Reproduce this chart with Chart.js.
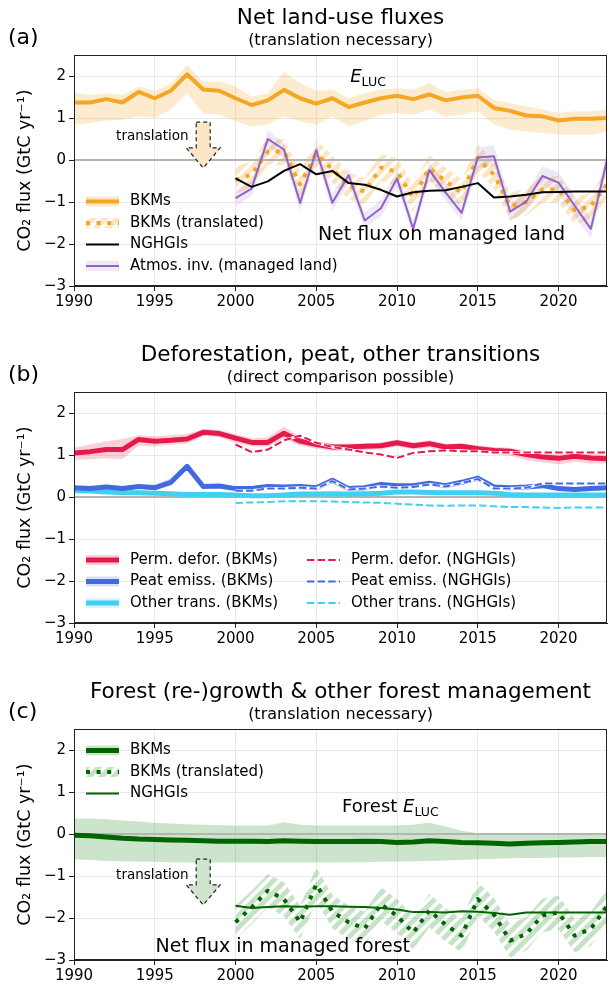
<!DOCTYPE html>
<html>
<head>
<meta charset="utf-8">
<script src="https://cdn.jsdelivr.net/npm/chart.js@4.4.1/dist/chart.umd.min.js"></script>
<style>
  html, body { margin: 0; padding: 0; background: #fff; overflow: hidden; }
  .panel { position: absolute; left: 0; width: 609px; }
</style>
</head>
<body>
<div class="panel" style="top:0"><canvas id="panelA" width="609" height="337"></canvas></div>
<div class="panel" style="top:337px"><canvas id="panelB" width="609" height="337"></canvas></div>
<div class="panel" style="top:674px"><canvas id="panelC" width="609" height="311"></canvas></div>
<script>
// años
const anios = [1990, 1991, 1992, 1993, 1994, 1995, 1996, 1997, 1998, 1999, 2000, 2001, 2002, 2003, 2004, 2005, 2006,
  2007, 2008, 2009, 2010, 2011, 2012, 2013, 2014, 2015, 2016, 2017, 2018, 2019, 2020, 2021, 2022, 2023];
const aniosGestion = [2000, 2001, 2002, 2003, 2004, 2005, 2006, 2007, 2008, 2009, 2010, 2011, 2012, 2013, 2014,
  2015, 2016, 2017, 2018, 2019, 2020, 2021, 2022, 2023];
const ticksY = [-3, -2, -1, 0, 1, 2];

// (a) flujos netos
const elucBKM = [1.37, 1.37, 1.45, 1.37, 1.62, 1.47, 1.65, 2.04, 1.68, 1.65, 1.47, 1.31, 1.42, 1.67, 1.47, 1.34, 1.47,
  1.26, 1.37, 1.47, 1.53, 1.45, 1.56, 1.42, 1.49, 1.53, 1.24, 1.17, 1.06, 1.04, 0.94, 0.98, 0.98, 1.00];
const elucAlto = [1.61, 1.55, 1.59, 1.55, 1.75, 1.65, 1.83, 2.26, 1.87, 1.87, 1.75, 1.51, 1.59, 2.10, 1.83, 1.65, 1.67,
  1.47, 1.59, 1.67, 1.71, 1.67, 1.83, 1.62, 1.67, 1.71, 1.43, 1.36, 1.28, 1.20, 1.12, 1.16, 1.16, 1.20];
const elucBajo = [0.84, 0.88, 0.94, 0.96, 1.04, 1.00, 1.20, 1.59, 1.10, 1.08, 0.92, 0.80, 0.84, 1.04, 0.92, 0.84, 1.04,
  0.80, 0.92, 1.08, 1.12, 1.08, 1.20, 1.04, 1.08, 1.16, 0.85, 0.72, 0.68, 0.64, 0.60, 0.60, 0.60, 0.68];
const traducidoA = [-0.47, -0.35, 0.20, 0.20, -0.58, 0.15, -0.22, -0.62, -0.75, -0.18, -0.28, -0.90, -0.20, -0.50,
  -0.78, 0.05, -0.35, -1.10, -1.00, -0.70, -0.70, -1.20, -1.10, -0.58];
const traducidoAAlto = [-0.15, -0.03, 0.52, 0.50, -0.26, 0.47, 0.10, -0.30, -0.43, 0.14, 0.04, -0.58, 0.12, -0.18,
  -0.46, 0.37, -0.03, -0.78, -0.68, -0.38, -0.38, -0.88, -0.78, -0.26];
const traducidoABajo = [-0.79, -0.67, -0.12, -0.12, -0.90, -0.17, -0.54, -0.94, -1.07, -0.50, -0.60, -1.22, -0.52,
  -0.82, -1.10, -0.27, -0.67, -1.42, -1.32, -1.02, -1.02, -1.52, -1.42, -0.90];
const nghgiA = [-0.44, -0.64, -0.51, -0.26, -0.10, -0.34, -0.26, -0.55, -0.59, -0.71, -0.87, -0.77, -0.73, -0.72,
  -0.64, -0.55, -0.89, -0.87, -0.83, -0.77, -0.76, -0.75, -0.75, -0.75];
const atmos = [-0.91, -0.68, 0.50, 0.25, -1.02, 0.24, -1.02, -0.36, -1.44, -1.15, -0.44, -1.64, -0.24, -0.77, -1.26,
  0.06, 0.09, -1.23, -0.99, -0.38, -0.54, -1.09, -1.64, 0.00];
const atmosAlto = [-0.75, -0.50, 0.70, 0.40, -0.80, 0.40, -0.80, -0.20, -1.25, -0.95, -0.25, -1.45, -0.05, -0.55,
  -1.05, 0.30, 0.35, -1.00, -0.80, -0.15, -0.30, -0.85, -1.40, 0.25];
const atmosBajo = [-1.10, -0.85, 0.30, 0.05, -1.20, 0.05, -1.20, -0.55, -1.60, -1.35, -0.65, -1.80, -0.45, -0.95,
  -1.45, -0.20, -0.15, -1.45, -1.20, -0.60, -0.80, -1.35, -1.85, -0.25];

// (b) deforestación, turba, otras transiciones
const deforBKM = [1.05, 1.08, 1.13, 1.13, 1.37, 1.33, 1.35, 1.38, 1.54, 1.51, 1.40, 1.30, 1.30, 1.52, 1.33, 1.25, 1.19,
  1.19, 1.21, 1.22, 1.29, 1.22, 1.27, 1.19, 1.21, 1.15, 1.11, 1.09, 1.01, 0.95, 0.92, 0.97, 0.93, 0.91];
const deforAlto = [1.17, 1.25, 1.32, 1.38, 1.47, 1.45, 1.47, 1.50, 1.62, 1.60, 1.50, 1.40, 1.42, 1.68, 1.43, 1.33, 1.27,
  1.27, 1.28, 1.30, 1.37, 1.30, 1.35, 1.27, 1.28, 1.23, 1.19, 1.17, 1.10, 1.05, 1.02, 1.07, 1.03, 1.01];
const deforBajo = [0.88, 0.90, 0.92, 0.90, 1.22, 1.20, 1.25, 1.27, 1.45, 1.42, 1.30, 1.20, 1.20, 1.38, 1.22, 1.15, 1.10,
  1.10, 1.12, 1.13, 1.20, 1.13, 1.18, 1.10, 1.12, 1.06, 1.02, 0.98, 0.88, 0.82, 0.78, 0.84, 0.80, 0.80];
const deforNG = [1.25, 1.07, 1.13, 1.35, 1.46, 1.29, 1.19, 1.13, 1.06, 1.01, 0.93, 1.05, 1.09, 1.11, 1.09, 1.09, 1.06,
  1.06, 1.06, 1.06, 1.06, 1.06, 1.06, 1.06];
const turbaBKM = [0.22, 0.20, 0.24, 0.20, 0.25, 0.22, 0.35, 0.73, 0.25, 0.26, 0.20, 0.20, 0.25, 0.24, 0.25, 0.22, 0.40,
  0.20, 0.22, 0.30, 0.27, 0.27, 0.33, 0.27, 0.35, 0.45, 0.24, 0.22, 0.24, 0.27, 0.20, 0.18, 0.20, 0.22];
const turbaAlto = [0.26, 0.24, 0.28, 0.25, 0.30, 0.30, 0.45, 0.78, 0.29, 0.30, 0.24, 0.24, 0.29, 0.28, 0.29, 0.26, 0.44,
  0.24, 0.26, 0.34, 0.31, 0.31, 0.37, 0.31, 0.39, 0.49, 0.28, 0.26, 0.28, 0.31, 0.24, 0.22, 0.24, 0.26];
const turbaBajo = [0.18, 0.17, 0.20, 0.17, 0.21, 0.19, 0.28, 0.68, 0.21, 0.22, 0.16, 0.16, 0.21, 0.20, 0.21, 0.18, 0.36,
  0.16, 0.18, 0.26, 0.23, 0.23, 0.29, 0.23, 0.31, 0.41, 0.20, 0.18, 0.20, 0.23, 0.16, 0.14, 0.16, 0.18];
const turbaNG = [0.15, 0.15, 0.20, 0.20, 0.22, 0.20, 0.38, 0.18, 0.20, 0.25, 0.22, 0.24, 0.30, 0.25, 0.33, 0.43, 0.20,
  0.20, 0.22, 0.32, 0.32, 0.32, 0.32, 0.32];
const otrasBKM = [0.15, 0.14, 0.12, 0.11, 0.10, 0.09, 0.08, 0.06, 0.06, 0.06, 0.05, 0.03, 0.03, 0.05, 0.07, 0.07, 0.08,
  0.07, 0.08, 0.09, 0.12, 0.12, 0.11, 0.10, 0.10, 0.10, 0.09, 0.06, 0.05, 0.05, 0.05, 0.05, 0.05, 0.05];
const otrasAlto = [0.19, 0.18, 0.16, 0.15, 0.14, 0.13, 0.11, 0.09, 0.09, 0.09, 0.08, 0.06, 0.06, 0.08, 0.10, 0.10, 0.11,
  0.10, 0.11, 0.12, 0.15, 0.15, 0.14, 0.13, 0.13, 0.13, 0.12, 0.09, 0.08, 0.08, 0.08, 0.08, 0.08, 0.08];
const otrasBajo = [0.11, 0.10, 0.08, 0.07, 0.06, 0.05, 0.05, 0.03, 0.03, 0.03, 0.02, 0.00, 0.00, 0.02, 0.04, 0.04, 0.05,
  0.04, 0.05, 0.06, 0.09, 0.09, 0.08, 0.07, 0.07, 0.07, 0.06, 0.03, 0.02, 0.02, 0.02, 0.02, 0.02, 0.02];
const otrasNG = [-0.14, -0.13, -0.12, -0.10, -0.10, -0.10, -0.11, -0.12, -0.13, -0.14, -0.16, -0.18, -0.20, -0.21,
  -0.20, -0.20, -0.22, -0.24, -0.24, -0.25, -0.26, -0.25, -0.25, -0.25];

// (c) bosques
const bosqueBKM = [-0.03, -0.04, -0.07, -0.10, -0.12, -0.13, -0.14, -0.15, -0.16, -0.17, -0.17, -0.17, -0.18, -0.16,
  -0.17, -0.18, -0.18, -0.18, -0.17, -0.18, -0.20, -0.19, -0.16, -0.18, -0.20, -0.21, -0.22, -0.24, -0.22, -0.21,
  -0.20, -0.19, -0.18, -0.18];
const bosqueAlto = [0.37, 0.37, 0.35, 0.32, 0.30, 0.27, 0.25, 0.23, 0.22, 0.21, 0.20, 0.20, 0.20, 0.28, 0.22, 0.20, 0.20,
  0.20, 0.20, 0.20, 0.20, 0.22, 0.27, 0.18, 0.08, 0.02, 0.00, 0.00, 0.00, 0.00, 0.00, 0.00, 0.00, 0.00];
const bosqueBajo = [-0.60, -0.62, -0.64, -0.65, -0.66, -0.66, -0.67, -0.68, -0.68, -0.68, -0.68, -0.68, -0.68, -0.68,
  -0.68, -0.68, -0.68, -0.67, -0.67, -0.66, -0.66, -0.65, -0.64, -0.63, -0.62, -0.60, -0.59, -0.58, -0.57, -0.57,
  -0.56, -0.56, -0.55, -0.55];
const bosqueNG = [-1.71, -1.76, -1.74, -1.72, -1.73, -1.72, -1.72, -1.73, -1.74, -1.76, -1.80, -1.86, -1.86, -1.87,
  -1.84, -1.85, -1.88, -1.92, -1.87, -1.87, -1.87, -1.87, -1.87, -1.87];
const traducidoC = [-2.10, -1.75, -1.35, -1.55, -2.10, -1.20, -1.85, -2.10, -2.25, -1.67, -1.95, -2.35, -1.82, -2.16,
  -2.42, -1.55, -1.92, -2.54, -2.38, -1.94, -1.87, -2.42, -2.26, -1.71];
const traducidoCAlto = [-1.70, -1.35, -0.95, -1.15, -1.70, -0.80, -1.45, -1.70, -1.85, -1.27, -1.55, -1.95, -1.42,
  -1.76, -2.02, -1.15, -1.52, -2.14, -1.98, -1.54, -1.47, -2.02, -1.86, -1.31];
const traducidoCBajo = [-2.50, -2.15, -1.75, -1.95, -2.50, -1.60, -2.25, -2.50, -2.65, -2.07, -2.35, -2.75, -2.22,
  -2.56, -2.82, -1.95, -2.32, -2.94, -2.78, -2.34, -2.27, -2.82, -2.66, -2.11];

const fuente = '"DejaVu Sans", sans-serif';
Chart.defaults.font.family = fuente;
Chart.defaults.color = '#000';

function rayado(color) {
  const c = document.createElement("canvas");
  c.width = 12;
  c.height = 12;
  const ctx = c.getContext("2d");
  ctx.strokeStyle = color;
  ctx.lineWidth = 5;
  ctx.beginPath();
  ctx.moveTo(-6, 6); ctx.lineTo(6, -6);
  ctx.moveTo(0, 12); ctx.lineTo(12, 0);
  ctx.moveTo(6, 18); ctx.lineTo(18, 6);
  ctx.stroke();
  return ctx.createPattern(c, "repeat");
}

const rayadoNaranja = rayado("rgba(245,166,35,0.28)");
const rayadoVerde = rayado("rgba(0,128,0,0.22)");

function serie(xs, ys) {
  return xs.map((x, i) => ({ x: x, y: ys[i] }));
}

function linea(xs, ys, color, ancho, orden, extra) {
  return Object.assign({
    data: serie(xs, ys), borderColor: color, borderWidth: ancho, pointRadius: 0,
    fill: false, order: orden, borderJoinStyle: "round", borderCapStyle: "butt"
  }, extra || {});
}

function banda(xs, alto, bajo, relleno, orden) {
  return [
    { data: serie(xs, alto), borderColor: "rgba(0,0,0,0)", borderWidth: 0, pointRadius: 0, fill: "+1", backgroundColor: relleno, order: orden },
    { data: serie(xs, bajo), borderColor: "rgba(0,0,0,0)", borderWidth: 0, pointRadius: 0, fill: false, order: orden }
  ];
}

function escalas(altoEjeX) {
  const rejilla = { color: "#e9e9e9", tickColor: "#222", tickLength: 5 };
  return {
    x: {
      type: "linear", min: 1990, max: 2023,
      afterFit: (s) => { s.height = altoEjeX; },
      ticks: { stepSize: 5, includeBounds: false, maxRotation: 0, padding: 2, font: { size: 15 }, callback: (v) => String(v) },
      grid: rejilla,
      border: { color: "#222" }
    },
    y: {
      type: "linear", min: -3, max: 2.5,
      afterFit: (s) => { s.width = 74; },
      afterBuildTicks: (s) => { s.ticks = ticksY.map((v) => ({ value: v })); },
      ticks: { padding: 3, font: { size: 15 }, callback: (v) => (v < 0 ? "\u2212" + Math.abs(v) : String(v)) },
      grid: rejilla,
      border: { color: "#222" },
      title: { display: true, text: "CO\u2082 flux (GtC yr\u207B\u00B9)", font: { size: 17.5 }, padding: { top: 15, bottom: 0 } }
    }
  };
}

function muestra(ctx, e, x0, x1, yc) {
  if (e.relleno) {
    ctx.fillStyle = e.relleno;
    ctx.fillRect(x0, yc - 5, x1 - x0, 10);
  }
  ctx.beginPath();
  ctx.setLineDash(e.guiones || []);
  ctx.lineCap = "butt";
  ctx.strokeStyle = e.color;
  ctx.lineWidth = e.ancho;
  ctx.moveTo(x0, yc);
  ctx.lineTo(x1, yc);
  ctx.stroke();
  ctx.setLineDash([]);
}

function texto(ctx, t, x, y) {
  let px = x.getPixelForValue(t.x);
  const py = y.getPixelForValue(t.y);
  ctx.textBaseline = "alphabetic";
  ctx.textAlign = "left";
  const fontDe = (p) => (p.italic ? "italic " : "") + (p.sub ? t.size * 0.7 : t.size) + "px " + fuente;
  if (t.derecha) {
    let w = 0;
    t.partes.forEach((p) => { ctx.font = fontDe(p); w += ctx.measureText(p.t).width; });
    px -= w;
  }
  t.partes.forEach((p) => {
    ctx.font = fontDe(p);
    ctx.fillText(p.t, px, py + (p.sub ? t.size * 0.22 : 0));
    px += ctx.measureText(p.t).width;
  });
}

function flecha(ctx, f, x, y) {
  const cx = x.getPixelForValue(f.x);
  const t = y.getPixelForValue(f.arriba);
  const c = y.getPixelForValue(f.cuello);
  const p = y.getPixelForValue(f.punta);
  ctx.beginPath();
  ctx.moveTo(cx - 7, t); ctx.lineTo(cx + 7, t); ctx.lineTo(cx + 7, c); ctx.lineTo(cx + 17, c);
  ctx.lineTo(cx, p); ctx.lineTo(cx - 17, c); ctx.lineTo(cx - 7, c); ctx.closePath();
  ctx.fillStyle = f.relleno;
  ctx.fill();
  ctx.setLineDash([4, 3]);
  ctx.strokeStyle = "#222";
  ctx.lineWidth = 1.2;
  ctx.stroke();
  ctx.setLineDash([]);
}

const decoracion = {
  id: "decoracion",
  beforeDatasetDraw(chart, args) {
    if (!chart.data.datasets[args.index].lineaCero) return;
    const { ctx, chartArea: a, scales: { y } } = chart;
    const y0 = y.getPixelForValue(0);
    ctx.save();
    ctx.strokeStyle = "#b4b4b4";
    ctx.lineWidth = 2;
    ctx.beginPath();
    ctx.moveTo(a.left, y0);
    ctx.lineTo(a.right, y0);
    ctx.stroke();
    ctx.restore();
  },
  afterDraw(chart, args, o) {
    const { ctx, chartArea: a, scales: { x, y } } = chart;
    ctx.save();
    ctx.strokeStyle = "#222";
    ctx.lineWidth = 1;
    ctx.strokeRect(Math.round(a.left) + 0.5, Math.round(a.top) + 0.5, Math.round(a.right - a.left) - 1, Math.round(a.bottom - a.top) - 1);

    const cx = (a.left + a.right) / 2;
    ctx.fillStyle = "#000";
    ctx.textAlign = "center";
    ctx.textBaseline = "middle";
    ctx.font = "21.5px " + fuente;
    ctx.fillText(o.titulo, cx, a.top - 37);
    ctx.font = "16px " + fuente;
    ctx.fillText(o.subtitulo, cx, a.top - 14);
    ctx.textAlign = "left";
    ctx.font = "22px " + fuente;
    ctx.fillText(o.letra, 8, a.top - 17);

    (o.flechas || []).forEach((f) => flecha(ctx, f, x, y));
    ctx.fillStyle = "#000";
    (o.textos || []).forEach((t) => texto(ctx, t, x, y));

    const ley = o.leyenda;
    const filas = Math.max(...ley.entradas.map((e) => e.fila)) + 1;
    ley.entradas.forEach((e) => {
      const yc = ley.ancla === "abajo" ? a.bottom - 20 - (filas - 1 - e.fila) * 21.5 : a.top + 21.5 + e.fila * 21.5;
      const x0 = a.left + (e.col ? 233 : 12);
      muestra(ctx, e, x0, x0 + 33, yc);
      ctx.fillStyle = "#000";
      ctx.font = "15px " + fuente;
      ctx.textAlign = "left";
      ctx.textBaseline = "middle";
      ctx.fillText(e.texto, x0 + 44, yc);
    });
    ctx.restore();
  }
};

function crearPanel(id, datasets, decor, altoEjeX) {
  return new Chart(document.getElementById(id), {
    type: "line",
    data: { datasets: datasets },
    options: {
      responsive: false,
      animation: false,
      devicePixelRatio: 1,
      layout: { padding: { top: 55, right: 2, left: 0, bottom: 0 } },
      scales: escalas(altoEjeX),
      plugins: { legend: { display: false }, tooltip: { enabled: false }, decoracion: decor }
    },
    plugins: [decoracion]
  });
}

const naranja = "#f5a623";
const morado = "#9063c6";
const carmesi = "#e6194b";
const azul = "#4169e1";
const celeste = "#40d0f2";
const verde = "#006400";

crearPanel("panelA", [
  linea(anios, elucBKM, naranja, 4, 1),
  linea(aniosGestion, nghgiA, "#000", 2, 2),
  linea(aniosGestion, atmos, morado, 2, 3),
  linea(aniosGestion, traducidoA, naranja, 4, 4, { borderDash: [4, 6.6], lineaCero: true }),
  ...banda(aniosGestion, atmosAlto, atmosBajo, "rgba(148,103,189,0.15)", 7),
  ...banda(aniosGestion, traducidoAAlto, traducidoABajo, rayadoNaranja, 8),
  ...banda(anios, elucAlto, elucBajo, "rgba(245,166,35,0.22)", 9)
], {
  titulo: "Net land-use fluxes",
  subtitulo: "(translation necessary)",
  letra: "(a)",
  flechas: [{ x: 1998, arriba: 0.9, cuello: 0.29, punta: -0.19, relleno: "#fce5c6" }],
  textos: [
    { x: 2007.1, y: 1.86, size: 18, partes: [{ t: "E", italic: true }, { t: "LUC", sub: true }] },
    { x: 1997.1, y: 0.48, size: 13.5, derecha: true, partes: [{ t: "translation" }] },
    { x: 2005.1, y: -1.9, size: 19, partes: [{ t: "Net flux on managed land" }] }
  ],
  leyenda: {
    ancla: "abajo",
    entradas: [
      { fila: 0, col: 0, texto: "BKMs", color: naranja, ancho: 4, relleno: "rgba(245,166,35,0.25)" },
      { fila: 1, col: 0, texto: "BKMs (translated)", color: naranja, ancho: 4, relleno: rayadoNaranja, guiones: [4, 6.6] },
      { fila: 2, col: 0, texto: "NGHGIs", color: "#000", ancho: 2 },
      { fila: 3, col: 0, texto: "Atmos. inv. (managed land)", color: morado, ancho: 2, relleno: "rgba(148,103,189,0.15)" }
    ]
  }
}, 51);

const guion = [7.4, 3.2];
crearPanel("panelB", [
  linea(aniosGestion, deforNG, carmesi, 2, 1, { borderDash: guion }),
  linea(aniosGestion, turbaNG, azul, 2, 2, { borderDash: guion }),
  linea(aniosGestion, otrasNG, celeste, 2, 3, { borderDash: guion }),
  linea(aniosGestion, deforNG, "#fff", 3, 4),
  linea(aniosGestion, turbaNG, "#fff", 3, 4),
  linea(aniosGestion, otrasNG, "#fff", 3, 4),
  linea(anios, deforBKM, carmesi, 5, 5),
  linea(anios, turbaBKM, azul, 5, 6),
  linea(anios, otrasBKM, celeste, 5, 7, { lineaCero: true }),
  ...banda(anios, deforAlto, deforBajo, "rgba(230,25,75,0.2)", 9),
  ...banda(anios, turbaAlto, turbaBajo, "rgba(65,105,225,0.2)", 9),
  ...banda(anios, otrasAlto, otrasBajo, "rgba(64,208,242,0.2)", 9)
], {
  titulo: "Deforestation, peat, other transitions",
  subtitulo: "(direct comparison possible)",
  letra: "(b)",
  textos: [],
  leyenda: {
    ancla: "abajo",
    entradas: [
      { fila: 0, col: 0, texto: "Perm. defor. (BKMs)", color: carmesi, ancho: 5, relleno: "rgba(230,25,75,0.2)" },
      { fila: 1, col: 0, texto: "Peat emiss. (BKMs)", color: azul, ancho: 5, relleno: "rgba(65,105,225,0.2)" },
      { fila: 2, col: 0, texto: "Other trans. (BKMs)", color: celeste, ancho: 5, relleno: "rgba(64,208,242,0.2)" },
      { fila: 0, col: 1, texto: "Perm. defor. (NGHGIs)", color: carmesi, ancho: 2, guiones: guion },
      { fila: 1, col: 1, texto: "Peat emiss. (NGHGIs)", color: azul, ancho: 2, guiones: guion },
      { fila: 2, col: 1, texto: "Other trans. (NGHGIs)", color: celeste, ancho: 2, guiones: guion }
    ]
  }
}, 51);

crearPanel("panelC", [
  linea(anios, bosqueBKM, verde, 5, 1),
  linea(aniosGestion, bosqueNG, verde, 2, 2),
  linea(aniosGestion, traducidoC, verde, 4, 3, { borderDash: [4, 6.6], lineaCero: true }),
  ...banda(aniosGestion, traducidoCAlto, traducidoCBajo, rayadoVerde, 8),
  ...banda(anios, bosqueAlto, bosqueBajo, "rgba(0,120,0,0.2)", 9)
], {
  titulo: "Forest (re-)growth & other forest management",
  subtitulo: "(translation necessary)",
  letra: "(c)",
  flechas: [{ x: 1998, arriba: -0.6, cuello: -1.21, punta: -1.69, relleno: "#cfe4cf" }],
  textos: [
    { x: 2006.6, y: 0.52, size: 18, partes: [{ t: "Forest " }, { t: "E", italic: true }, { t: "LUC", sub: true }] },
    { x: 1997.1, y: -1.07, size: 13.5, derecha: true, partes: [{ t: "translation" }] },
    { x: 1995.05, y: -2.81, size: 19, partes: [{ t: "Net flux in managed forest" }] }
  ],
  leyenda: {
    ancla: "arriba",
    entradas: [
      { fila: 0, col: 0, texto: "BKMs", color: verde, ancho: 5, relleno: "rgba(0,120,0,0.2)" },
      { fila: 1, col: 0, texto: "BKMs (translated)", color: verde, ancho: 4, relleno: rayadoVerde, guiones: [4, 6.6] },
      { fila: 2, col: 0, texto: "NGHGIs", color: verde, ancho: 2 }
    ]
  }
}, 25);
</script>
</body>
</html>
